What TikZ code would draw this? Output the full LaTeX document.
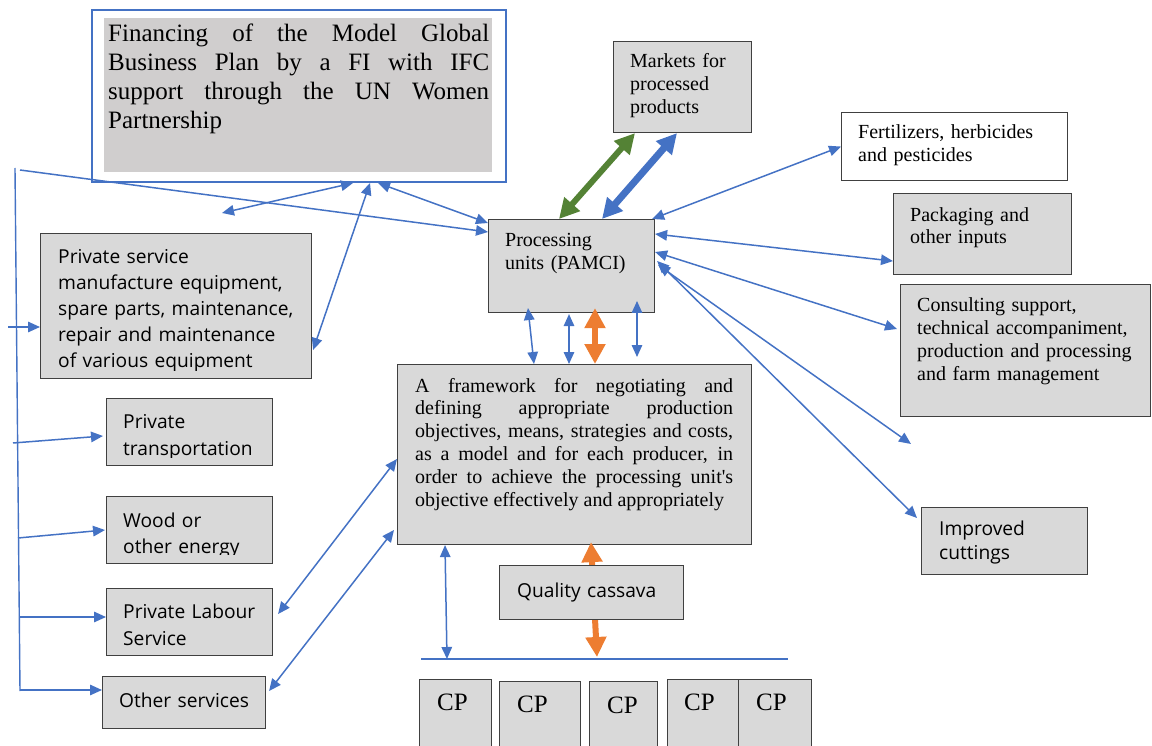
\documentclass[tikz,border=0pt]{standalone}
\usepackage{fontspec}
\setmainfont{Liberation Serif}
\newfontfamily\sansf{Open Sans}
\usetikzlibrary{arrows.meta}
\definecolor{blu}{HTML}{4472C4}
\definecolor{grn}{HTML}{548235}
\definecolor{org}{HTML}{ED7D31}
\definecolor{bxg}{HTML}{D9D9D9}
\definecolor{fig}{HTML}{D0CECE}
\definecolor{bord}{HTML}{404040}
\begin{document}
\begin{tikzpicture}[x=1pt,y=-1pt,
  box/.style={draw=bord,fill=bxg,line width=1.1pt,inner sep=0pt,anchor=north west},
  wbox/.style={box,fill=white},
  ser/.style={font=\fontsize{20}{23}\selectfont,inner sep=0pt,anchor=base west,align=left,text width=260pt},
  serbig/.style={font=\fontsize{25}{29}\selectfont,inner sep=0pt,anchor=base west,align=left,text width=60pt},
  san/.style={font=\sansf\fontsize{19.2}{26}\selectfont,inner sep=0pt,anchor=base west,align=left,text width=260pt},
  conn/.style={draw=blu,line width=1.5pt,>={Triangle[length=12pt,width=10.5pt]},<->},
  one/.style={draw=blu,line width=1.5pt,>={Triangle[length=12pt,width=10.5pt]},->},
  ln/.style={draw=blu,line width=1.4pt},
  thk/.style={line width=7pt,>={Triangle[length=20pt,width=20pt]},<->},
]
\useasboundingbox (0,0) rectangle (1152,746);

% ---------- boxes ----------
\node[draw=blu,line width=2pt,fill=white,minimum width=414pt,minimum height=172pt,anchor=north west,inner sep=0pt] (fi) at (91,9) {};
\node[fill=fig,minimum width=388pt,minimum height=154pt,anchor=north west,inner sep=0pt] (fiin) at (104,18) {};
\node[serbig,text width=381pt,align=justify] (fiT) at (108,42) {Financing of the Model Global\linebreak Business Plan by a FI with IFC\linebreak support through the UN Women\linebreak Partnership};

\node[box,minimum width=138pt,minimum height=91pt] (mkt) at (613,41) {};
\node[ser] (mktT) at (630,68) {Markets for\\processed\\products};

\node[box,minimum width=166pt,minimum height=93pt] (proc) at (488,219) {};
\node[ser] (procT) at (505,247) {Processing\\units (PAMCI)};

\node[wbox,minimum width=226pt,minimum height=68pt] (fert) at (841,112) {};
\node[ser] (fertT) at (858,139) {Fertilizers, herbicides\\and pesticides};

\node[box,minimum width=178pt,minimum height=81pt] (pack) at (893,193) {};
\node[ser,font=\fontsize{20}{22}\selectfont] (packT) at (910,222) {Packaging and\\other inputs};

\node[box,minimum width=250pt,minimum height=132pt] (cons) at (900,284) {};
\node[ser] (consT) at (917,312) {Consulting support,\\technical accompaniment,\\production and processing\\and farm management};

\node[box,minimum width=166pt,minimum height=67pt] (impr) at (921,507) {};
\node[san,font=\sansf\fontsize{19.2}{24}\selectfont] (imprT) at (939,535) {Improved\\cuttings};

\node[box,minimum width=271pt,minimum height=145pt] (ps) at (40,233) {};
\begin{scope}
\clip (40,233) rectangle (311,370);
\node[san] (psT) at (58,264) {Private service\\manufacture equipment,\\spare parts, maintenance,\\repair and maintenance\\of various equipment};
\end{scope}

\node[box,minimum width=166pt,minimum height=67pt] (pt) at (106,398) {};
\begin{scope}
\clip (106,398) rectangle (272,457);
\node[san,font=\sansf\fontsize{19.2}{27}\selectfont] (ptT) at (123,428) {Private\\transportation};
\end{scope}

\node[box,minimum width=166pt,minimum height=67pt] (wd) at (106,496) {};
\begin{scope}
\clip (106,496) rectangle (272,554);
\node[san] (wdT) at (123,527) {Wood or\\other energy};
\end{scope}

\node[box,minimum width=166pt,minimum height=67pt] (lab) at (106,588) {};
\node[san,font=\sansf\fontsize{19.2}{27}\selectfont] (labT) at (123,618) {Private Labour\\Service};

\node[box,minimum width=163pt,minimum height=52pt] (oth) at (102,676) {};
\node[san] (othT) at (119,707) {Other services};

\node[box,minimum width=354pt,minimum height=180pt] (fw) at (397,364) {};
\node[ser,font=\fontsize{20}{22.8}\selectfont,text width=318pt,align=justify] (fwT) at (415,392) {A framework for negotiating and\linebreak defining appropriate production\linebreak objectives, means, strategies and costs,\linebreak as a model and for each producer, in\linebreak order to achieve the processing unit\textquotesingle s\linebreak objective effectively and appropriately};

% CP boxes
\node[box,minimum width=72pt,minimum height=80pt] (cp1) at (419,679) {};
\node[box,minimum width=81pt,minimum height=80pt] (cp2) at (499,681) {};
\node[box,minimum width=68pt,minimum height=80pt] (cp3) at (589,681) {};
\node[box,minimum width=71pt,minimum height=80pt] (cp4) at (667,679) {};
\node[box,minimum width=73pt,minimum height=80pt] (cp5) at (738,679) {};
\node[serbig] (cp1T) at (437,710) {CP};
\node[serbig] (cp2T) at (517,712) {CP};
\node[serbig] (cp3T) at (607,713) {CP};
\node[serbig] (cp4T) at (684,710) {CP};
\node[serbig] (cp5T) at (756,710) {CP};

% ---------- coordinates ----------
\coordinate (vt) at (15,168);
\coordinate (vb) at (20,691);
\coordinate (lt) at (20,170);
\coordinate (a1) at (8,327);
\coordinate (a2) at (13,443);
\coordinate (a3) at (18,538);
\coordinate (a4) at (19,617);
\coordinate (a5) at (20,690);
\coordinate (fiFree) at (222,213);
\coordinate (stub) at (911,444);
\coordinate (hlL) at (421,659);
\coordinate (hlR) at (788,659);
\coordinate (hlA) at (447,659);
\coordinate (hlB) at (597,657);
\coordinate (p4a) at (637,301);
\coordinate (p4b) at (637,357);

% ---------- connectors ----------
\draw[ln] (vt) -- (vb);
\draw[ln] (hlL) -- (hlR);
\draw[one] (lt) -- ([yshift=-13pt]proc.north west);
\draw[one] (a1) -- ([yshift=-94pt]ps.north west);
\draw[one] (a2) -- ([xshift=-3pt,yshift=-38pt]pt.north west);
\draw[one] (a3) -- ([xshift=-1pt,yshift=-34pt]wd.north west);
\draw[one] (a4) -- ([yshift=-29pt]lab.north west);
\draw[one] (a5) -- ([yshift=-14pt]oth.north west);

\draw[conn] ([xshift=262pt]fi.south west) -- (fiFree);
\draw[conn] ([xshift=279pt]fi.south west) -- ([xshift=1pt,yshift=-117pt]ps.north east);
\draw[conn] ([xshift=287pt]fi.south west) -- ([yshift=-4pt]proc.north west);

\draw[thk,draw=grn,line width=6pt] ([xshift=22pt]mkt.south west) -- ([xshift=71pt]proc.north west);
\draw[thk,draw=blu] ([xshift=64pt]mkt.south west) -- ([xshift=114pt]proc.north west);

\draw[conn] ([xshift=-3pt]proc.north east) -- (fert.west);
\draw[conn] ([yshift=-15pt]proc.north east) -- ([yshift=14pt]pack.south west);
\draw[conn] ([yshift=-33pt]proc.north east) -- ([xshift=-3pt,yshift=-45pt]cons.north west);
\draw[conn] ([xshift=3pt,yshift=-46pt]proc.north east) -- (stub);
\draw[conn] ([xshift=2pt,yshift=-42pt]proc.north east) -- ([xshift=-4pt,yshift=-11pt]impr.north west);

\draw[conn] ([xshift=40pt,yshift=5pt]proc.south west) -- ([xshift=137pt]fw.north west);
\draw[conn] ([xshift=81pt,yshift=-1pt]proc.south west) -- ([xshift=172pt]fw.north west);
\draw[thk,draw=org,line width=6pt] ([xshift=107pt,yshift=5pt]proc.south west) -- ([xshift=198pt]fw.north west);
\draw[conn] (p4a) -- (p4b);

\draw[conn] ([yshift=-95pt]fw.north west) -- ([xshift=5pt,yshift=-26pt]lab.north east);
\draw[conn] ([xshift=-3pt,yshift=-166pt]fw.north west) -- ([xshift=3pt,yshift=-15pt]oth.north east);

\draw[conn] ([xshift=48pt]fw.south west) -- (hlA);
\draw[thk,draw=org,line width=6pt] ([xshift=194pt,yshift=3pt]fw.south west) -- (hlB);

% Quality cassava drawn over the orange arrow
\node[box,minimum width=184pt,minimum height=54pt] (qc) at (499,565) {};
\node[san] (qcT) at (517,597) {Quality cassava};
\end{tikzpicture}
\end{document}
